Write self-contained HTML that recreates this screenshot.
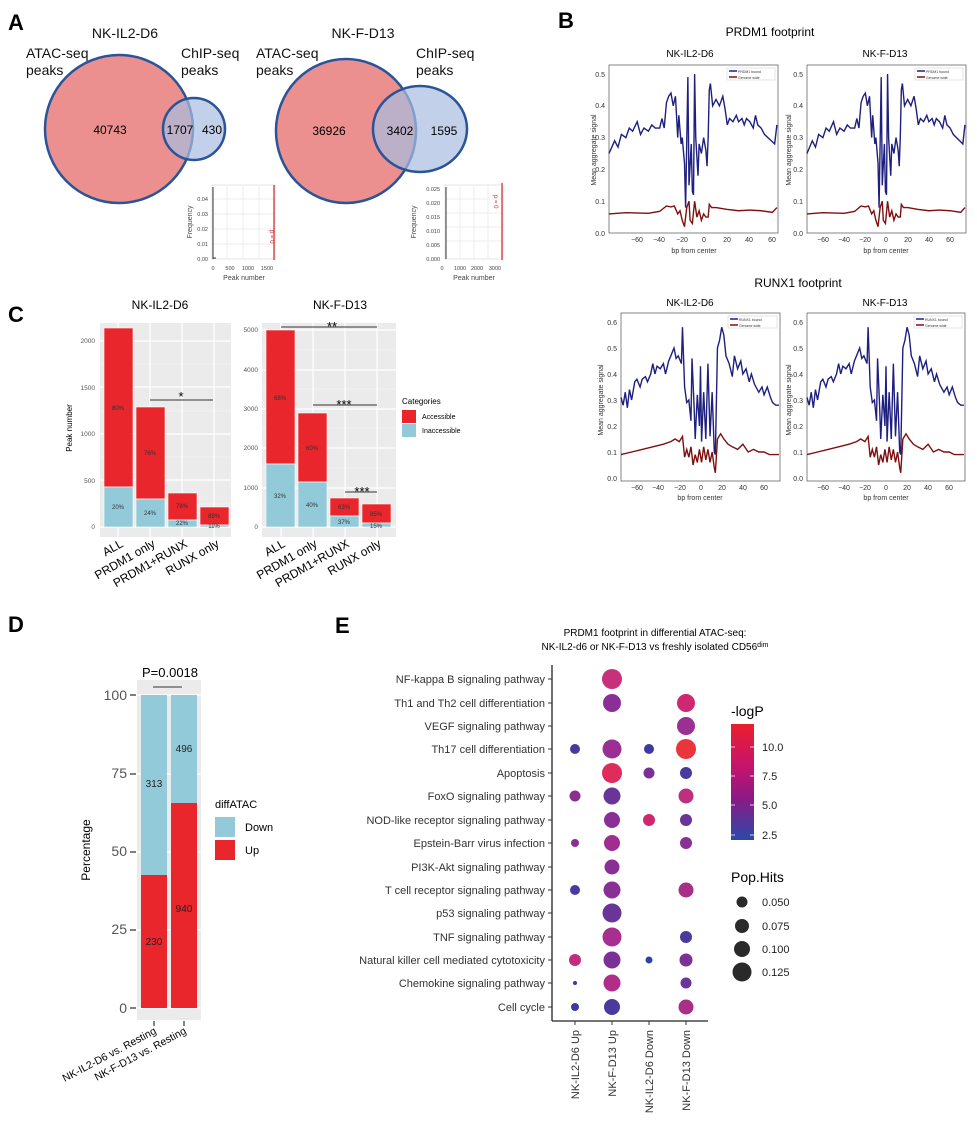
<!DOCTYPE html>
<html><head><meta charset="utf-8"><style>
body{margin:0;background:#fff}
svg{display:block;font-family:"Liberation Sans",sans-serif}
</style></head><body>
<svg width="977" height="1122" viewBox="0 0 977 1122" xmlns="http://www.w3.org/2000/svg">
<defs>
<linearGradient id="cb" x1="0" y1="0" x2="0" y2="1">
<stop offset="0" stop-color="#ea1f2c"/><stop offset="0.35" stop-color="#c8146a"/><stop offset="0.65" stop-color="#8a1a86"/><stop offset="1" stop-color="#2a4aa8"/>
</linearGradient>
<g id="prdmB"><polyline fill="none" stroke="#1f1f7f" stroke-width="1.4" vector-effect="non-scaling-stroke" points="-75,25 -70,29 -67,27 -64,31 -60,30 -57,33 -54,32 -50,35 -47,31 -44,33 -40,32 -37,34 -34,33 -30,33 -28,36 -26,33 -24,41 -22,43 -20,44 -18,40 -16,43 -14,30 -13,37 -11,28 -10,30 -8,22 -7,8 -5,49 -4,15 -2,28 -1,13 0,12 1,50 2,30 4,18 5,28 7,25 9,30 11,26 12,21 13,30 14,45 15,47 17,40 20,42 23,40 26,43 28,39 30,34 32,36 35,35 38,37 40,35 43,36 45,34 47,36 50,35 53,33 55,37 57,34 60,33 63,31 66,30 69,29 72,28 74,34"/>
<polyline fill="none" stroke="#7f1010" stroke-width="1.4" vector-effect="non-scaling-stroke" points="-75,6 -60,6.4 -40,6.2 -30,6.8 -24,8.5 -20,8.2 -17,8.5 -14,6 -12,7 -10,4 -8,2 -6,8 -4,10 -3,4 -1,3 1,10 3,5 5,7 7,4 9,6 11,5 13,5 14,9 16,8 20,8 30,7.4 40,7 50,7.2 60,7 70,6.5 74,8"/></g>
<g id="runxB"><polyline fill="none" stroke="#1f1f7f" stroke-width="1.4" vector-effect="non-scaling-stroke" points="-75,31 -73,28 -71,33 -69,27 -67,34 -65,30 -62,37 -60,38 -57,35 -55,38 -52,39 -50,37 -47,40 -45,44 -43,40 -41,43 -38,42 -35,44 -33,40 -30,45 -28,47 -25,50 -23,46 -21,47 -18,44 -17,58 -15,35 -13,29 -11,30 -9,22 -8,46 -6,27 -5,15 -3,32 -1,20 0,43 1,14 3,33 5,15 7,44 9,16 11,33 13,10 14,9 16,50 18,53 20,58 22,55 24,47 27,44 30,39 32,47 35,42 38,45 40,40 43,42 46,37 48,40 51,36 55,33 58,35 60,32 63,35 66,31 68,29 71,28 74,28"/>
<polyline fill="none" stroke="#7f1010" stroke-width="1.4" vector-effect="non-scaling-stroke" points="-75,9 -65,10 -55,11 -45,12 -35,13 -28,14 -24,15 -20,14 -17,16 -15,8 -13,11 -11,8 -9,12 -7,5 -5,9 -3,6 -1,11 1,6 3,12 5,7 7,11 9,6 11,10 13,4 14,2 16,15 19,17 22,15 26,13 30,12 35,11 40,13 45,10 50,11 55,10 60,10 65,9 74,9"/></g>
</defs>

<!-- Panel A -->
<text x="8" y="30" font-size="22" font-weight="bold">A</text>
<g font-size="14" fill="#111">
<text x="125" y="38" text-anchor="middle">NK-IL2-D6</text>
<text x="26" y="58">ATAC-seq</text><text x="26" y="75">peaks</text>
<text x="181" y="58">ChIP-seq</text><text x="181" y="75">peaks</text>
<text x="363" y="38" text-anchor="middle">NK-F-D13</text>
<text x="256" y="58">ATAC-seq</text><text x="256" y="75">peaks</text>
<text x="416" y="58">ChIP-seq</text><text x="416" y="75">peaks</text>
</g>
<circle cx="119" cy="129" r="74" fill="#ec8f8f" stroke="#2a5499" stroke-width="2.5"/>
<circle cx="194" cy="129" r="31" fill="#a8bde0" fill-opacity="0.7" stroke="#2a5499" stroke-width="2.5"/>
<ellipse cx="346" cy="131" rx="70" ry="72" fill="#ec8f8f" stroke="#2a5499" stroke-width="2.5"/>
<ellipse cx="420" cy="129" rx="47" ry="43" fill="#a8bde0" fill-opacity="0.7" stroke="#2a5499" stroke-width="2.5"/>
<g font-size="12" text-anchor="middle">
<text x="110" y="134">40743</text><text x="180" y="134">1707</text><text x="212" y="134">430</text>
<text x="329" y="135">36926</text><text x="400" y="135">3402</text><text x="444" y="135">1595</text>
</g>
<!-- insets -->
<g font-size="5.5" fill="#444">
<rect x="212" y="185" width="63" height="74" fill="#fff" stroke="#e6e6e6"/>
<path d="M227 185V259M243 185V259M259 185V259M212 199H275M212 214H275M212 229H275M212 244H275" stroke="#eee"/>
<line x1="213" y1="187" x2="213" y2="259" stroke="#333"/><line x1="213" y1="258" x2="216" y2="258" stroke="#333"/>
<line x1="274" y1="185" x2="274" y2="260" stroke="#e02020" stroke-width="1.2"/>
<text x="270" y="230" fill="#e02020" transform="rotate(90 270 230)" font-size="6">p = 0</text>
<text x="208" y="201" text-anchor="end">0.04</text><text x="208" y="216" text-anchor="end">0.03</text><text x="208" y="231" text-anchor="end">0.02</text><text x="208" y="246" text-anchor="end">0.01</text><text x="208" y="261" text-anchor="end">0.00</text>
<text x="213" y="270" text-anchor="middle">0</text><text x="230" y="270" text-anchor="middle">500</text><text x="248" y="270" text-anchor="middle">1000</text><text x="267" y="270" text-anchor="middle">1500</text>
<text x="244" y="280" text-anchor="middle" font-size="7">Peak number</text>
<text x="192" y="222" text-anchor="middle" font-size="7" transform="rotate(-90 192 222)">Frequency</text>

<rect x="445" y="185" width="58" height="74" fill="#fff" stroke="#e6e6e6"/>
<path d="M460 185V259M474 185V259M488 185V259M445 199H503M445 213H503M445 227H503M445 241H503" stroke="#eee"/>
<line x1="446" y1="187" x2="446" y2="259" stroke="#333"/>
<line x1="502" y1="183" x2="502" y2="260" stroke="#e02020" stroke-width="1.2"/>
<text x="494" y="195" fill="#e02020" transform="rotate(90 494 195)" font-size="6">p = 0</text>
<text x="440" y="191" text-anchor="end">0.025</text><text x="440" y="205" text-anchor="end">0.020</text><text x="440" y="219" text-anchor="end">0.015</text><text x="440" y="233" text-anchor="end">0.010</text><text x="440" y="247" text-anchor="end">0.005</text><text x="440" y="261" text-anchor="end">0.000</text>
<text x="442" y="270" text-anchor="middle">0</text><text x="460" y="270" text-anchor="middle">1000</text><text x="477" y="270" text-anchor="middle">2000</text><text x="495" y="270" text-anchor="middle">3000</text>
<text x="474" y="280" text-anchor="middle" font-size="7">Peak number</text>
<text x="416" y="222" text-anchor="middle" font-size="7" transform="rotate(-90 416 222)">Frequency</text>
</g>

<!-- Panel B -->
<text x="558" y="28" font-size="22" font-weight="bold">B</text>
<text x="770" y="36" font-size="12" text-anchor="middle">PRDM1 footprint</text>
<text x="690" y="57" font-size="10" text-anchor="middle">NK-IL2-D6</text>
<text x="885" y="57" font-size="10" text-anchor="middle">NK-F-D13</text>
<g font-size="7" fill="#333">
<rect x="609" y="65" width="169" height="168" fill="#fff" stroke="#666" stroke-width="0.8"/>
<use href="#prdmB" transform="translate(693.5,233) scale(1.127,-3.18)"/>
<rect x="727" y="68" width="48" height="12" fill="#fff" stroke="#ccc" stroke-width="0.5"/>
<line x1="729" y1="71" x2="737" y2="71" stroke="#1f1f7f" stroke-width="1.5"/><line x1="729" y1="77" x2="737" y2="77" stroke="#7f1010" stroke-width="1.5"/>
<text x="738" y="73" font-size="3.5">PRDM1 bound</text><text x="738" y="79" font-size="3.5">Genome wide</text>
<text x="605" y="77" text-anchor="end">0.5</text><text x="605" y="108" text-anchor="end">0.4</text><text x="605" y="140" text-anchor="end">0.3</text><text x="605" y="172" text-anchor="end">0.2</text><text x="605" y="204" text-anchor="end">0.1</text><text x="605" y="236" text-anchor="end">0.0</text>
<text x="637" y="242" text-anchor="middle">−60</text><text x="659" y="242" text-anchor="middle">−40</text><text x="682" y="242" text-anchor="middle">−20</text><text x="704" y="242" text-anchor="middle">0</text><text x="727" y="242" text-anchor="middle">20</text><text x="749" y="242" text-anchor="middle">40</text><text x="772" y="242" text-anchor="middle">60</text>
<text x="694" y="253" text-anchor="middle">bp from center</text>
<text x="596" y="150" text-anchor="middle" transform="rotate(-90 596 150)">Mean aggregate signal</text>

<rect x="807" y="65" width="159" height="168" fill="#fff" stroke="#666" stroke-width="0.8"/>
<use href="#prdmB" transform="translate(886.5,233) scale(1.06,-3.18)"/>
<rect x="915" y="68" width="48" height="12" fill="#fff" stroke="#ccc" stroke-width="0.5"/>
<line x1="917" y1="71" x2="925" y2="71" stroke="#1f1f7f" stroke-width="1.5"/><line x1="917" y1="77" x2="925" y2="77" stroke="#7f1010" stroke-width="1.5"/>
<text x="926" y="73" font-size="3.5">PRDM1 bound</text><text x="926" y="79" font-size="3.5">Genome wide</text>
<text x="803" y="77" text-anchor="end">0.5</text><text x="803" y="108" text-anchor="end">0.4</text><text x="803" y="140" text-anchor="end">0.3</text><text x="803" y="172" text-anchor="end">0.2</text><text x="803" y="204" text-anchor="end">0.1</text><text x="803" y="236" text-anchor="end">0.0</text>
<text x="823" y="242" text-anchor="middle">−60</text><text x="844" y="242" text-anchor="middle">−40</text><text x="865" y="242" text-anchor="middle">−20</text><text x="886" y="242" text-anchor="middle">0</text><text x="908" y="242" text-anchor="middle">20</text><text x="929" y="242" text-anchor="middle">40</text><text x="950" y="242" text-anchor="middle">60</text>
<text x="886" y="253" text-anchor="middle">bp from center</text>
<text x="791" y="150" text-anchor="middle" transform="rotate(-90 791 150)">Mean aggregate signal</text>
</g>

<text x="798" y="287" font-size="12" text-anchor="middle">RUNX1 footprint</text>
<text x="690" y="306" font-size="10" text-anchor="middle">NK-IL2-D6</text>
<text x="885" y="306" font-size="10" text-anchor="middle">NK-F-D13</text>
<g font-size="7" fill="#333">
<rect x="621" y="313" width="159" height="168" fill="#fff" stroke="#666" stroke-width="0.8"/>
<use href="#runxB" transform="translate(700.5,478) scale(1.06,-2.6)"/>
<rect x="728" y="316" width="49" height="12" fill="#fff" stroke="#ccc" stroke-width="0.5"/>
<line x1="730" y1="319" x2="738" y2="319" stroke="#1f1f7f" stroke-width="1.5"/><line x1="730" y1="325" x2="738" y2="325" stroke="#7f1010" stroke-width="1.5"/>
<text x="739" y="321" font-size="3.5">RUNX1 bound</text><text x="739" y="327" font-size="3.5">Genome wide</text>
<text x="617" y="325" text-anchor="end">0.6</text><text x="617" y="351" text-anchor="end">0.5</text><text x="617" y="377" text-anchor="end">0.4</text><text x="617" y="403" text-anchor="end">0.3</text><text x="617" y="429" text-anchor="end">0.2</text><text x="617" y="455" text-anchor="end">0.1</text><text x="617" y="481" text-anchor="end">0.0</text>
<text x="637" y="490" text-anchor="middle">−60</text><text x="658" y="490" text-anchor="middle">−40</text><text x="680" y="490" text-anchor="middle">−20</text><text x="701" y="490" text-anchor="middle">0</text><text x="722" y="490" text-anchor="middle">20</text><text x="743" y="490" text-anchor="middle">40</text><text x="764" y="490" text-anchor="middle">60</text>
<text x="700" y="500" text-anchor="middle">bp from center</text>
<text x="603" y="400" text-anchor="middle" transform="rotate(-90 603 400)">Mean aggregate signal</text>

<rect x="807" y="313" width="158" height="168" fill="#fff" stroke="#666" stroke-width="0.8"/>
<use href="#runxB" transform="translate(886,478) scale(1.053,-2.6)"/>
<rect x="914" y="316" width="48" height="12" fill="#fff" stroke="#ccc" stroke-width="0.5"/>
<line x1="916" y1="319" x2="924" y2="319" stroke="#1f1f7f" stroke-width="1.5"/><line x1="916" y1="325" x2="924" y2="325" stroke="#7f1010" stroke-width="1.5"/>
<text x="925" y="321" font-size="3.5">RUNX1 bound</text><text x="925" y="327" font-size="3.5">Genome wide</text>
<text x="803" y="325" text-anchor="end">0.6</text><text x="803" y="351" text-anchor="end">0.5</text><text x="803" y="377" text-anchor="end">0.4</text><text x="803" y="403" text-anchor="end">0.3</text><text x="803" y="429" text-anchor="end">0.2</text><text x="803" y="455" text-anchor="end">0.1</text><text x="803" y="481" text-anchor="end">0.0</text>
<text x="823" y="490" text-anchor="middle">−60</text><text x="844" y="490" text-anchor="middle">−40</text><text x="865" y="490" text-anchor="middle">−20</text><text x="886" y="490" text-anchor="middle">0</text><text x="907" y="490" text-anchor="middle">20</text><text x="928" y="490" text-anchor="middle">40</text><text x="949" y="490" text-anchor="middle">60</text>
<text x="886" y="500" text-anchor="middle">bp from center</text>
<text x="791" y="400" text-anchor="middle" transform="rotate(-90 791 400)">Mean aggregate signal</text>
</g>

<!-- Panel C -->
<text x="8" y="322" font-size="22" font-weight="bold">C</text>
<text x="160" y="309" font-size="12" text-anchor="middle">NK-IL2-D6</text>
<text x="340" y="309" font-size="12" text-anchor="middle">NK-F-D13</text>
<rect x="100" y="323" width="131" height="214" fill="#ebebeb"/>
<path d="M100 504H231M100 457H231M100 411H231M100 364H231" stroke="#f5f5f5" stroke-width="0.6"/>
<path d="M100 527H231M100 480H231M100 434H231M100 387H231M100 341H231M118 323V537M150 323V537M182 323V537M214 323V537" stroke="#fff" stroke-width="1.2"/>
<g stroke="#fff" stroke-width="0.6">
<rect x="104" y="328" width="29" height="159" fill="#e8262c"/><rect x="104" y="487" width="29" height="40" fill="#92cad9"/>
<rect x="136" y="407" width="29" height="92" fill="#e8262c"/><rect x="136" y="499" width="29" height="28" fill="#92cad9"/>
<rect x="168" y="493" width="29" height="27" fill="#e8262c"/><rect x="168" y="520" width="29" height="7" fill="#92cad9"/>
<rect x="200" y="507" width="29" height="18" fill="#e8262c"/><rect x="200" y="525" width="29" height="2" fill="#92cad9"/>
</g>
<g font-size="6" text-anchor="middle" fill="#333">
<text x="118" y="410">80%</text><text x="118" y="509">20%</text><text x="150" y="455">76%</text><text x="150" y="515">24%</text>
<text x="182" y="508">78%</text><text x="182" y="525">22%</text><text x="214" y="518">89%</text><text x="214" y="528">11%</text>
</g>
<g font-size="6.5" fill="#555" text-anchor="end">
<text x="95" y="529">0</text><text x="95" y="483">500</text><text x="95" y="436">1000</text><text x="95" y="390">1500</text><text x="95" y="343">2000</text>
<text x="258" y="529">0</text><text x="258" y="490">1000</text><text x="258" y="450">2000</text><text x="258" y="411">3000</text><text x="258" y="372">4000</text><text x="258" y="332">5000</text>
</g>
<text x="72" y="428" font-size="8" text-anchor="middle" transform="rotate(-90 72 428)">Peak number</text>
<line x1="150" y1="400" x2="213" y2="400" stroke="#333"/><text x="181" y="401" font-size="13" text-anchor="middle">*</text>

<rect x="262" y="323" width="134" height="214" fill="#ebebeb"/>
<path d="M262 507H396M262 468H396M262 428H396M262 389H396M262 350H396" stroke="#f5f5f5" stroke-width="0.6"/>
<path d="M262 527H396M262 488H396M262 448H396M262 409H396M262 370H396M262 330H396M281 323V537M313 323V537M345 323V537M377 323V537" stroke="#fff" stroke-width="1.2"/>
<g stroke="#fff" stroke-width="0.6">
<rect x="266" y="330" width="29" height="134" fill="#e8262c"/><rect x="266" y="464" width="29" height="63" fill="#92cad9"/>
<rect x="298" y="413" width="29" height="69" fill="#e8262c"/><rect x="298" y="482" width="29" height="45" fill="#92cad9"/>
<rect x="330" y="498" width="29" height="18" fill="#e8262c"/><rect x="330" y="516" width="29" height="11" fill="#92cad9"/>
<rect x="362" y="504" width="29" height="19" fill="#e8262c"/><rect x="362" y="523" width="29" height="4" fill="#92cad9"/>
</g>
<g font-size="6" text-anchor="middle" fill="#333">
<text x="280" y="400">68%</text><text x="280" y="498">32%</text><text x="312" y="450">60%</text><text x="312" y="507">40%</text>
<text x="344" y="509">63%</text><text x="344" y="524">37%</text><text x="376" y="516">85%</text><text x="376" y="528">15%</text>
</g>
<line x1="281" y1="327" x2="377" y2="327" stroke="#333"/><text x="332" y="331" font-size="13" text-anchor="middle">**</text>
<line x1="313" y1="405" x2="377" y2="405" stroke="#333"/><text x="344" y="409" font-size="13" text-anchor="middle">***</text>
<line x1="345" y1="492" x2="377" y2="492" stroke="#333"/><text x="362" y="496" font-size="13" text-anchor="middle">***</text>
<g font-size="12" text-anchor="end">
<text transform="translate(124,546) rotate(-30)">ALL</text><text transform="translate(156,546) rotate(-30)">PRDM1 only</text>
<text transform="translate(188,546) rotate(-30)">PRDM1+RUNX</text><text transform="translate(220,546) rotate(-30)">RUNX only</text>
<text transform="translate(286,546) rotate(-30)">ALL</text><text transform="translate(318,546) rotate(-30)">PRDM1 only</text>
<text transform="translate(350,546) rotate(-30)">PRDM1+RUNX</text><text transform="translate(382,546) rotate(-30)">RUNX only</text>
</g>
<text x="402" y="404" font-size="8">Categories</text>
<rect x="402" y="410" width="14" height="13" fill="#e8262c"/><rect x="402" y="424" width="14" height="13" fill="#92cad9"/>
<text x="422" y="419" font-size="7">Accessible</text><text x="422" y="433" font-size="7">Inaccessible</text>

<!-- Panel D -->
<text x="8" y="632" font-size="22" font-weight="bold">D</text>
<text x="170" y="677" font-size="13" text-anchor="middle">P=0.0018</text>
<rect x="137" y="680" width="64" height="340" fill="#ebebeb"/>
<path d="M137 1008H201M137 930H201M137 852H201M137 774H201M137 695H201" stroke="#fff" stroke-width="1.2"/>
<line x1="153" y1="687" x2="182" y2="687" stroke="#333"/>
<rect x="141" y="695" width="26" height="180" fill="#92cad9"/><rect x="141" y="875" width="26" height="133" fill="#e8262c"/>
<rect x="171" y="695" width="26" height="108" fill="#92cad9"/><rect x="171" y="803" width="26" height="205" fill="#e8262c"/>
<g font-size="10" text-anchor="middle" fill="#222">
<text x="154" y="787">313</text><text x="184" y="752">496</text><text x="154" y="945">230</text><text x="184" y="912">940</text>
</g>
<g font-size="14" fill="#555" text-anchor="end">
<text x="127" y="700">100</text><text x="127" y="778">75</text><text x="127" y="856">50</text><text x="127" y="934">25</text><text x="127" y="1013">0</text>
</g>
<path d="M130 695H136M130 774H136M130 852H136M130 930H136M130 1008H136M154 1021V1026M184 1021V1026" stroke="#333" stroke-width="1.2"/>
<text x="90" y="850" font-size="12" text-anchor="middle" transform="rotate(-90 90 850)">Percentage</text>
<g font-size="10.5" text-anchor="end">
<text transform="translate(157,1033) rotate(-28)">NK-IL2-D6 vs. Resting</text>
<text transform="translate(187,1033) rotate(-28)">NK-F-D13 vs. Resting</text>
</g>
<text x="215" y="808" font-size="11">diffATAC</text>
<rect x="215" y="817" width="20" height="20" fill="#92cad9"/><rect x="215" y="840" width="20" height="20" fill="#e8262c"/>
<text x="245" y="831" font-size="11">Down</text><text x="245" y="854" font-size="11">Up</text>

<!-- Panel E -->
<text x="335" y="633" font-size="22" font-weight="bold">E</text>
<text x="655" y="636" font-size="10" text-anchor="middle">PRDM1 footprint in differential ATAC-seq:</text>
<text x="655" y="650" font-size="10" text-anchor="middle">NK-IL2-d6 or NK-F-D13 vs freshly isolated CD56<tspan font-size="7" dy="-3">dim</tspan></text>
<line x1="552" y1="665" x2="552" y2="1021" stroke="#222" stroke-width="1.3"/>
<line x1="552" y1="1021" x2="708" y2="1021" stroke="#222" stroke-width="1.3"/>
<g font-size="11" text-anchor="end" fill="#333">
<text x="545" y="683">NF-kappa B signaling pathway</text>
<text x="545" y="707">Th1 and Th2 cell differentiation</text>
<text x="545" y="730">VEGF signaling pathway</text>
<text x="545" y="753">Th17 cell differentiation</text>
<text x="545" y="777">Apoptosis</text>
<text x="545" y="800">FoxO signaling pathway</text>
<text x="545" y="824">NOD-like receptor signaling pathway</text>
<text x="545" y="847">Epstein-Barr virus infection</text>
<text x="545" y="871">PI3K-Akt signaling pathway</text>
<text x="545" y="894">T cell receptor signaling pathway</text>
<text x="545" y="917">p53 signaling pathway</text>
<text x="545" y="941">TNF signaling pathway</text>
<text x="545" y="964">Natural killer cell mediated cytotoxicity</text>
<text x="545" y="987">Chemokine signaling pathway</text>
<text x="545" y="1011">Cell cycle</text>
</g>
<path d="M548 679H552M548 703H552M548 726H552M548 749H552M548 773H552M548 796H552M548 820H552M548 843H552M548 867H552M548 890H552M548 913H552M548 937H552M548 960H552M548 983H552M548 1007H552M575 1021V1025M612 1021V1025M649 1021V1025M686 1021V1025" stroke="#333"/>
<g>
<circle cx="612" cy="679" r="10" fill="#c8307a"/>
<circle cx="612" cy="703" r="9" fill="#8a2f96"/><circle cx="686" cy="703" r="9" fill="#d02870"/>
<circle cx="686" cy="726" r="9" fill="#9a2f94"/>
<circle cx="575" cy="749" r="5" fill="#4a3a9e"/><circle cx="612" cy="749" r="9.5" fill="#9a2f94"/><circle cx="649" cy="749" r="5" fill="#3d3aa0"/><circle cx="686" cy="749" r="10" fill="#e8363c"/>
<circle cx="612" cy="773" r="10" fill="#e02c5c"/><circle cx="649" cy="773" r="5.5" fill="#7a3096"/><circle cx="686" cy="773" r="6" fill="#4a3a9e"/>
<circle cx="575" cy="796" r="5.5" fill="#8a2f90"/><circle cx="612" cy="796" r="8.5" fill="#6a3598"/><circle cx="686" cy="796" r="7.5" fill="#c02e80"/>
<circle cx="612" cy="820" r="8" fill="#8a2f96"/><circle cx="649" cy="820" r="6" fill="#d0286e"/><circle cx="686" cy="820" r="6" fill="#6a3598"/>
<circle cx="575" cy="843" r="4" fill="#8a3094"/><circle cx="612" cy="843" r="8" fill="#a02e90"/><circle cx="686" cy="843" r="6" fill="#8a3094"/>
<circle cx="612" cy="867" r="7.5" fill="#8a2f96"/>
<circle cx="575" cy="890" r="5" fill="#4a3a9e"/><circle cx="612" cy="890" r="8.5" fill="#8a2f96"/><circle cx="686" cy="890" r="7.5" fill="#a82e88"/>
<circle cx="612" cy="913" r="9.5" fill="#6a3598"/>
<circle cx="612" cy="937" r="9.5" fill="#a82e90"/><circle cx="686" cy="937" r="6" fill="#4a3a9e"/>
<circle cx="575" cy="960" r="6" fill="#c02c80"/><circle cx="612" cy="960" r="8.5" fill="#7a3296"/><circle cx="649" cy="960" r="3.5" fill="#2e44a8"/><circle cx="686" cy="960" r="6.5" fill="#7a3296"/>
<circle cx="575" cy="983" r="2" fill="#3d3aa0"/><circle cx="612" cy="983" r="8.5" fill="#b02e88"/><circle cx="686" cy="983" r="5.5" fill="#6a3598"/>
<circle cx="575" cy="1007" r="4" fill="#3d3aa0"/><circle cx="612" cy="1007" r="8" fill="#4a3aa0"/><circle cx="686" cy="1007" r="7.5" fill="#a82e88"/>
</g>
<g font-size="11" fill="#333" text-anchor="end">
<text transform="translate(579,1030) rotate(-90)">NK-IL2-D6 Up</text>
<text transform="translate(616,1030) rotate(-90)">NK-F-D13 Up</text>
<text transform="translate(653,1030) rotate(-90)">NK-IL2-D6 Down</text>
<text transform="translate(690,1030) rotate(-90)">NK-F-D13 Down</text>
</g>
<text x="731" y="716" font-size="14">-logP</text>
<rect x="731" y="724" width="23" height="116" fill="url(#cb)"/>
<path d="M731 747H735M750 747H754M731 776H735M750 776H754M731 805H735M750 805H754M731 835H735M750 835H754" stroke="#fff" stroke-width="0.8"/>
<g font-size="11" fill="#222"><text x="762" y="751">10.0</text><text x="762" y="780">7.5</text><text x="762" y="809">5.0</text><text x="762" y="839">2.5</text></g>
<text x="731" y="882" font-size="14">Pop.Hits</text>
<g fill="#2a2a2a"><circle cx="742" cy="902" r="5.5"/><circle cx="742" cy="926" r="7"/><circle cx="742" cy="949" r="8"/><circle cx="742" cy="972" r="9.5"/></g>
<g font-size="11" fill="#222"><text x="762" y="906">0.050</text><text x="762" y="930">0.075</text><text x="762" y="953">0.100</text><text x="762" y="976">0.125</text></g>
</svg>
</body></html>
